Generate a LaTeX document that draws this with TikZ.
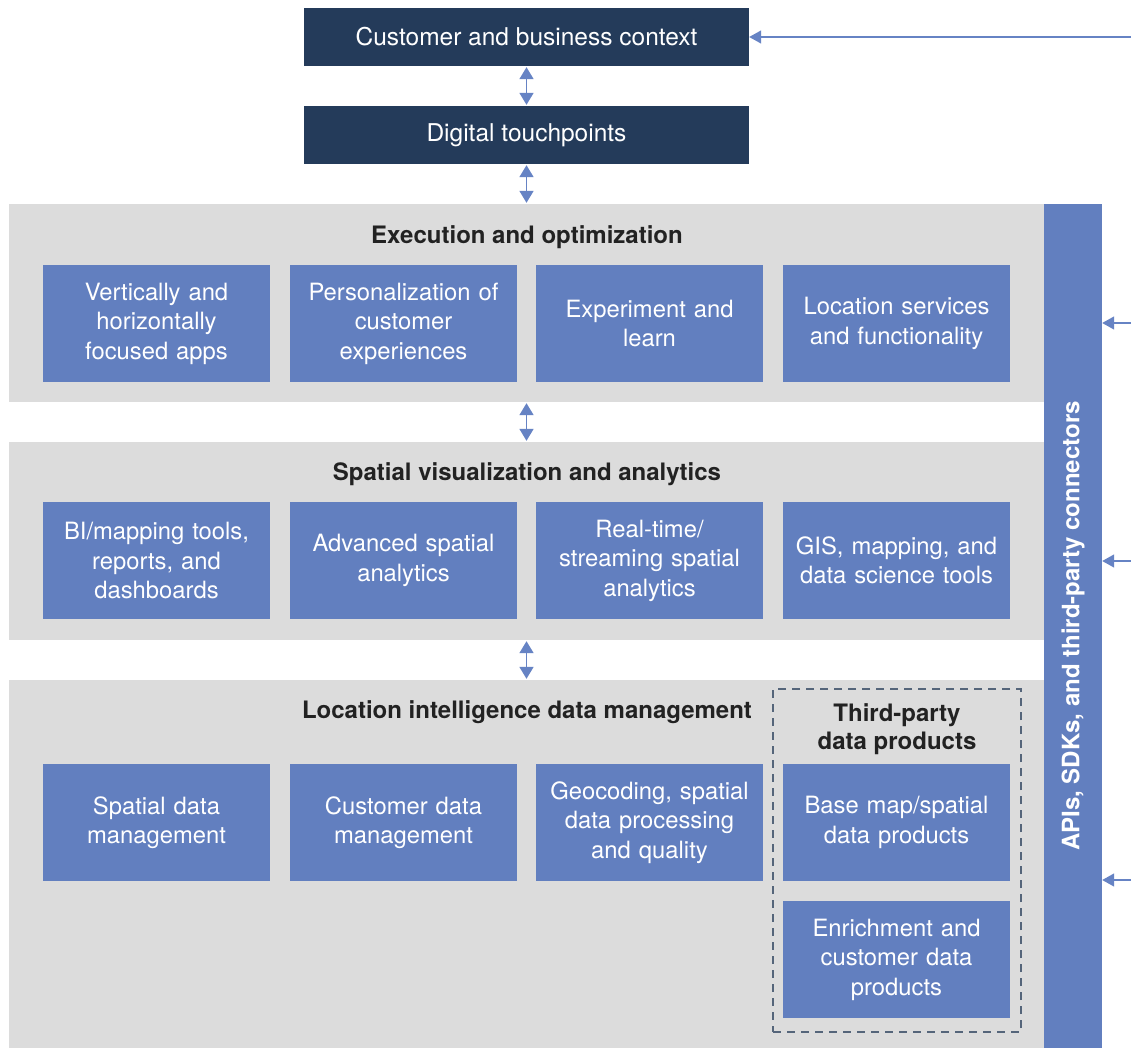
\documentclass[tikz,border=0pt]{standalone}
\usepackage{fontspec}
\setmainfont{TeX Gyre Heros}
\usetikzlibrary{arrows.meta}
\definecolor{navy}{HTML}{243B5A}
\definecolor{boxblue}{HTML}{627FBF}
\definecolor{bandgray}{HTML}{DCDCDC}
\definecolor{arrblue}{HTML}{6683C4}
\definecolor{dashgray}{HTML}{55657A}
\definecolor{titletxt}{HTML}{222222}
\begin{document}
\begin{tikzpicture}[x=1pt,y=-1pt,
  topbox/.style={fill=navy, text=white, minimum width=445pt, minimum height=58pt, inner sep=0pt, font=\fontsize{24.5}{29}\selectfont},
  bluebox/.style={fill=boxblue, text=white, minimum width=227pt, minimum height=117pt, text width=222pt, align=center, inner sep=0pt, font=\fontsize{23.8}{29.5}\selectfont},
  band/.style={fill=bandgray, inner sep=0pt},
  ttl/.style={font=\bfseries\fontsize{24}{28}\selectfont, text=titletxt, align=center, inner sep=0pt},
  dbl/.style={draw=arrblue, line width=1.8pt, {Triangle[width=14pt,length=12pt,fill=arrblue]}-{Triangle[width=14pt,length=12pt,fill=arrblue]}},
  inarr/.style={draw=arrblue, line width=1.4pt, -{Triangle[width=13pt,length=12pt,fill=arrblue]}}
]
\useasboundingbox (0,0) rectangle (1131,1049);
\fill[white] (0,0) rectangle (1131,1049);

% top boxes
\node[topbox] (ctx) at (526.5,37) {Customer and business context};
\node[topbox] (tp) at (526.5,135) {Digital touchpoints};

% bands
\node[band, minimum width=1035pt, minimum height=198pt] (b1) at (526.5,303) {};
\node[band, minimum width=1035pt, minimum height=198pt] (b2) at (526.5,541) {};
\node[band, minimum width=1035pt, minimum height=368pt] (b3) at (526.5,864) {};

% API bar
\node[fill=boxblue, text=white, rotate=90, minimum width=844pt, minimum height=58pt, inner sep=0pt,
      font=\bfseries\fontsize{24}{28}\selectfont] (api) at (1073,626) {APIs, SDKs, and third-party connectors};

% titles
\node[ttl] (t1) at (527,237) {Execution and optimization};
\node[ttl] (t2) at (527,474) {Spatial visualization and analytics};
\node[ttl] (t3) at (527,712) {Location intelligence data management};

% dashed third-party group
\node[draw=dashgray, line width=1.5pt, dash pattern=on 8pt off 6pt, minimum width=248pt, minimum height=343pt, inner sep=0pt] (grp) at (897,860.5) {};
\node[ttl] (t4) at (897,729.5) {Third-party\\data products};

% row 1
\node[bluebox] (a1) at (156.5,323.5) {Vertically and\\horizontally\\focused apps};
\node[bluebox] (a2) at (403.5,323.5) {Personalization of\\customer\\experiences};
\node[bluebox] (a3) at (649.5,323.5) {Experiment and\\learn};
\node[bluebox] (a4) at (896.5,323.5) {Location services\\and functionality};
% row 2
\node[bluebox] (c1) at (156.5,560.5) {BI/mapping tools,\\reports, and\\dashboards};
\node[bluebox] (c2) at (403.5,560.5) {Advanced spatial\\analytics};
\node[bluebox] (c3) at (649.5,560.5) {Real-time/\\streaming spatial\\analytics};
\node[bluebox] (c4) at (896.5,560.5) {GIS, mapping, and\\data science tools};
% row 3
\node[bluebox] (d1) at (156.5,822.5) {Spatial data\\management};
\node[bluebox] (d2) at (403.5,822.5) {Customer data\\management};
\node[bluebox] (d3) at (649.5,822.5) {Geocoding, spatial\\data processing\\and quality};
\node[bluebox] (d4) at (896.5,822.5) {Base map/spatial\\data products};
\node[bluebox] (d5) at (896.5,959.5) {Enrichment and\\customer data\\products};

% vertical double arrows
\draw[dbl] ([yshift=-1pt]ctx.south) -- ([yshift=1pt]tp.north);
\draw[dbl] ([yshift=-1pt]tp.south) -- ([yshift=1pt]b1.north);
\draw[dbl] ([yshift=-1pt]b1.south) -- ([yshift=1pt]b2.north);
\draw[dbl] ([yshift=-1pt]b2.south) -- ([yshift=1pt]b3.north);

% incoming arrows from the right
\coordinate (r1) at (1131,37);
\coordinate (r2) at (1131,323);
\coordinate (r3) at (1131,561);
\coordinate (r4) at (1131,880);
\draw[inarr] (r1) -- (ctx.east);
\draw[inarr] (r2) -- (r2 -| api.south);
\draw[inarr] (r3) -- (r3 -| api.south);
\draw[inarr] (r4) -- (r4 -| api.south);
\end{tikzpicture}
\end{document}
